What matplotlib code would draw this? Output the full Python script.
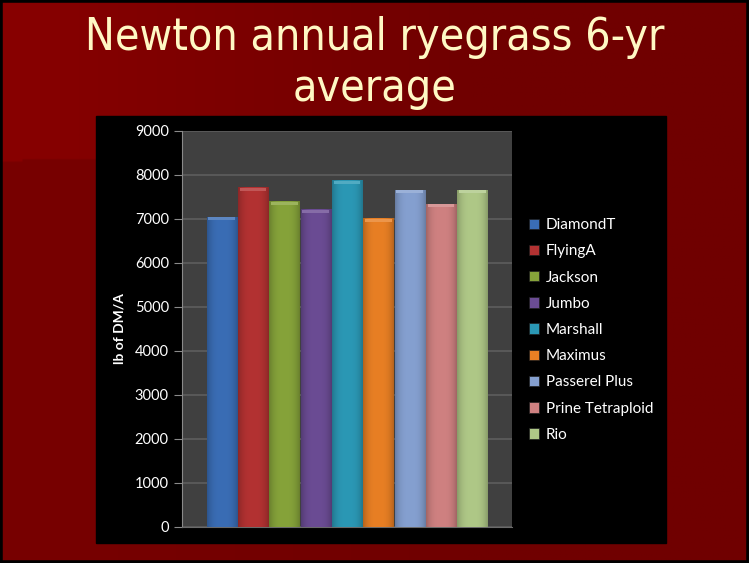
import matplotlib.pyplot as plt
import matplotlib.colors as mcolors
from matplotlib.patches import Rectangle
import numpy as np

varieties = ['DiamondT', 'FlyingA', 'Jackson', 'Jumbo', 'Marshall', 'Maximus',
             'Passerel Plus', 'Prine Tetraploid', 'Rio']
yields = [7040, 7710, 7390, 7210, 7870, 7010, 7650, 7340, 7655]
colors = ['#3a6db5', '#b33232', '#86a33a', '#6b4c94', '#2b98b5', '#e87f24',
          '#85a0d0', '#cf8181', '#afc887']

title = 'Newton annual ryegrass 6-yr\naverage'
ylabel = 'lb of DM/A'
yticks = np.arange(0, 9001, 1000)

W, H = 749, 563
fig = plt.figure(figsize=(W / 100, H / 100), dpi=100)

# slide background: dark red gradient with a darker lower band
bg = fig.add_axes([0, 0, 1, 1])
xx = np.linspace(0, 1, 300)
yy = np.linspace(0, 1, 230)
X, Y = np.meshgrid(xx, yy)
top_c = np.array(mcolors.to_rgb('#880000'))
right_c = np.array(mcolors.to_rgb('#700000'))
low_c = np.array(mcolors.to_rgb('#780000'))
t = np.clip(X * 1.6, 0, 1)[..., None]
img = top_c * (1 - t) + right_c * t
wave = 160 / H - 0.012 * X
below = (Y > wave)[..., None]
img = np.where(below, low_c * (1 - t) + right_c * t, img)
bg.imshow(img, extent=[0, 1, 1, 0], aspect='auto')
bg.set_xlim(0, 1)
bg.set_ylim(1, 0)
bg.axis('off')
bg.add_patch(Rectangle((0, 0), 1, 1, transform=bg.transAxes, fill=False,
                       edgecolor='black', linewidth=4))

# black chart area
bg.add_patch(Rectangle((96 / W, 116 / H), 570 / W, 427 / H, color='black'))

title_font = dict(ha='center', va='baseline', color='#fff8c4', fontsize=32,
                  family='DejaVu Sans', fontstretch='condensed')
lines = title.split('\n')
fig.text(0.5, 1 - 50 / H, lines[0], **title_font)
fig.text(0.5, 1 - 101 / H, lines[1], **title_font)

ax = fig.add_axes([182 / W, 1 - 527 / H, 330 / W, 396 / H])
ax.set_facecolor('#404040')
n = len(varieties)
x = np.arange(n)
bw = 0.96
bars = ax.bar(x, yields, width=bw, color=colors, zorder=2, label=varieties)

# shaded look on each bar
prof = np.linspace(-1, 1, 60)
shade = 1 - 0.22 * np.abs(prof) ** 3
for xi, h, c in zip(x, yields, colors):
    base = np.array(mcolors.to_rgb(c))
    row = np.clip(base[None, :] * shade[:, None], 0, 1)[None, :, :]
    ax.imshow(row, extent=[xi - bw / 2, xi + bw / 2, 0, h], aspect='auto', zorder=3)
    lite = np.clip(base + (1 - base) * 0.18, 0, 1)
    ax.add_patch(Rectangle((xi - bw / 2 + 0.05, h - 70), bw - 0.1, 70,
                           color=lite, zorder=4, linewidth=0))

pad = 9 * 330 / 282 / 2
ax.set_xlim(4 - pad, 4 + pad)
ax.set_ylim(0, 9000)
ax.set_yticks(yticks)
ax.set_xticks([])
ax.grid(axis='y', color='#5e5e5e', linewidth=1.2, zorder=1)
for s in ['top', 'right']:
    ax.spines[s].set_visible(False)
ax.spines['left'].set_color('#8a8a8a')
ax.spines['bottom'].set_color('#6a6a6a')
ax.tick_params(axis='y', colors='#8a8a8a', length=6, labelcolor='white',
               labelsize=10.5)
for lab in ax.get_yticklabels():
    lab.set_family('Lato')

fig.text(120 / W, 1 - 329 / H, ylabel, rotation=90, ha='center', va='center',
         color='white', fontsize=10, fontweight='bold', family='Lato')

leg = ax.legend(handles=list(bars), labels=varieties, loc='center left',
                bbox_to_anchor=(529 / W, 1 - 330 / H), bbox_transform=fig.transFigure,
                frameon=False, labelcolor='white', handlelength=0.68, handleheight=0.68,
                handletextpad=0.4, labelspacing=0.8, borderpad=0, borderaxespad=0,
                prop={'family': 'Lato', 'size': 11})
for hnd in leg.legend_handles:
    hnd.set_edgecolor('#202020')
    hnd.set_linewidth(0.5)

fig.savefig('out.png', dpi=100, facecolor='black')
